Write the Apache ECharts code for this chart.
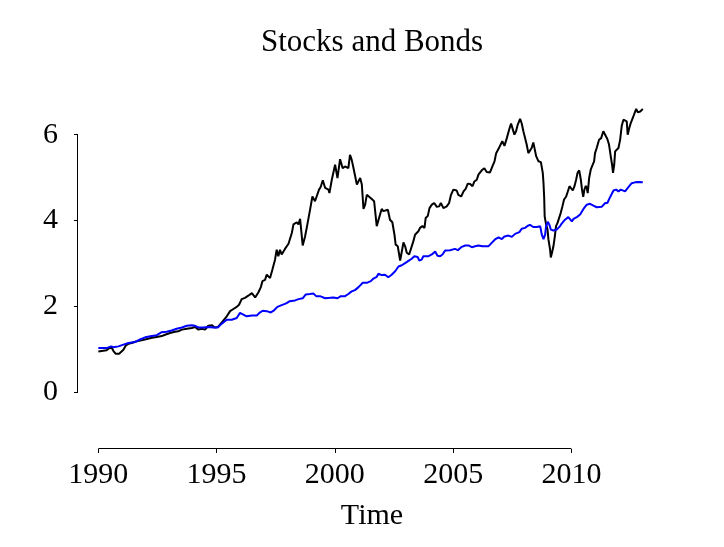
<!DOCTYPE html>
<html><head><meta charset="utf-8">
<script src="https://cdn.jsdelivr.net/npm/echarts@6/dist/echarts.min.js"></script>
<style>html,body{margin:0;padding:0;background:#fff}#c{width:724px;height:547px}</style>
</head><body><div id="c"></div>
<script>
// Stocks (black)
const stockTime = [1990.00,1990.35,1990.54,1990.64,1990.73,1990.88,1991.06,1991.16,1991.27,1991.41,1991.48,1991.62,1991.83,1991.90,1992.05,1992.26,1992.47,1992.68,1992.82,1993.03,1993.24,1993.38,1993.53,1993.74,1993.95,1994.09,1994.23,1994.37,1994.51,1994.65,1994.72,1994.82,1994.91,1995.05,1995.22,1995.43,1995.57,1995.71,1995.85,1995.95,
1996.06,1996.20,1996.34,1996.49,1996.56,1996.63,1996.77,1996.87,1996.94,1997.05,1997.12,1997.19,1997.26,1997.36,1997.47,1997.54,1997.61,1997.68,1997.75,1997.89,1998.04,1998.11,1998.18,1998.25,1998.39,1998.46,1998.53,1998.60,1998.64,1998.74,1998.81,1998.95,1999.05,1999.16,1999.23,1999.33,1999.40,1999.49,1999.59,1999.73,1999.77,1999.87,2000.01,2000.11,2000.22,2000.33,2000.43,2000.50,2000.57,2000.64,2000.71,2000.78,2000.85,2000.93,2001.00,2001.07,2001.14,2001.21,2001.28,2001.35,2001.42,2001.56,2001.66,2001.77,2001.84,2001.91,2001.98,2002.05,
2002.12,2002.24,2002.29,2002.33,2002.43,2002.52,2002.57,2002.66,2002.76,2002.83,2002.90,2002.97,2003.04,2003.14,2003.22,2003.32,2003.39,2003.53,2003.60,2003.70,2003.79,2003.84,2003.93,2004.00,2004.10,2004.20,2004.31,2004.41,2004.48,2004.59,2004.73,2004.83,2004.91,2005.01,2005.08,2005.15,2005.22,2005.34,2005.44,2005.53,2005.62,2005.72,2005.82,2005.90,2006.00,2006.07,2006.21,2006.32,2006.42,2006.56,2006.66,2006.75,2006.82,2006.92,2007.01,2007.08,2007.17,2007.27,2007.37,2007.45,2007.52,2007.59,2007.66,2007.73,2007.83,2007.90,2007.97,2008.04,2008.11,2008.18,
2008.25,2008.32,2008.39,2008.45,2008.51,2008.61,2008.71,2008.75,2008.79,2008.82,2008.85,2008.87,2008.92,2008.99,2009.03,2009.10,2009.13,2009.18,2009.24,2009.30,2009.35,2009.41,2009.49,2009.55,2009.62,2009.69,2009.78,2009.83,2009.92,2009.99,2010.06,2010.13,2010.20,2010.26,2010.33,2010.40,2010.45,2010.50,2010.55,2010.61,2010.65,2010.69,2010.75,2010.82,2010.89,2010.96,2011.00,2011.07,2011.17,2011.26,2011.35,2011.43,2011.52,2011.59,2011.66,2011.72,2011.76,2011.81,2011.85,2011.92,2011.99,2012.06,2012.13,2012.20,2012.27,2012.34,2012.38,2012.45,2012.51,2012.58,2012.65,2012.74,2012.81,2012.91,2012.98,2013.02];
const stockValue = [0.95,0.98,1.06,0.96,0.90,0.90,0.99,1.09,1.13,1.15,1.11,1.19,1.21,1.17,1.24,1.27,1.29,1.31,1.34,1.38,1.41,1.42,1.46,1.48,1.50,1.52,1.46,1.48,1.46,1.55,1.51,1.56,1.51,1.52,1.63,1.77,1.89,1.94,1.99,2.04,
2.17,2.20,2.25,2.31,2.28,2.21,2.33,2.45,2.59,2.62,2.74,2.70,2.66,2.86,3.09,3.32,3.17,3.32,3.21,3.34,3.46,3.48,3.71,3.91,3.96,3.91,4.04,4.01,3.42,3.63,3.83,4.25,4.56,4.45,4.56,4.72,4.78,4.94,4.76,4.72,4.64,4.95,5.30,4.99,5.43,5.22,5.26,5.30,5.22,5.53,5.42,5.24,5.20,4.84,4.84,4.99,4.84,4.27,4.37,4.60,4.64,4.50,4.45,3.87,3.91,4.14,4.27,4.22,
4.18,4.25,4.22,4.02,3.96,3.67,3.44,3.40,3.07,3.28,3.49,3.40,3.25,3.21,3.21,3.52,3.67,3.75,3.83,3.87,3.83,4.06,4.11,4.29,4.37,4.41,4.32,4.33,4.41,4.29,4.33,4.41,4.60,4.72,4.68,4.70,4.60,4.56,4.68,4.74,4.86,4.85,4.80,4.91,4.95,5.07,5.17,5.22,5.13,5.12,5.26,5.38,5.57,5.67,5.77,5.85,5.74,5.92,6.12,6.26,6.13,6.00,6.08,6.23,6.37,6.26,6.08,6.05,5.77,5.57,
5.53,5.69,5.82,5.81,5.50,5.38,5.36,5.38,5.11,4.88,4.53,4.10,3.94,3.79,3.56,3.32,3.14,3.25,3.40,3.63,3.87,3.94,3.97,4.18,4.33,4.49,4.56,4.53,4.80,4.84,4.70,4.80,4.95,5.11,5.17,4.95,4.72,4.55,4.72,4.81,4.76,4.64,4.99,5.19,5.22,5.38,5.57,5.69,5.88,5.92,6.08,6.04,5.90,5.77,5.51,5.30,5.11,5.30,5.61,5.64,5.69,5.88,6.21,6.35,6.39,6.31,6.00,6.16,6.27,6.37,6.47,6.60,6.52,6.54,6.58,6.60];

// Bonds (blue)
const bondTime = [1990.00,1990.35,1990.54,1990.64,1990.85,1991.06,1991.27,1991.55,1991.76,1991.98,1992.26,1992.47,1992.68,1992.89,1993.10,1993.31,1993.53,1993.74,1993.95,1994.09,1994.23,1994.44,1994.65,1994.86,1995.05,1995.22,1995.43,1995.64,1995.85,
1995.99,1996.13,1996.27,1996.49,1996.70,1996.81,1996.95,1997.12,1997.29,1997.43,1997.57,1997.75,1997.94,1998.08,1998.32,1998.46,1998.64,1998.77,1998.95,1999.09,1999.21,1999.37,1999.59,1999.80,1999.94,2000.11,2000.25,2000.43,2000.57,2000.71,2000.85,2001.00,2001.18,2001.35,2001.52,2001.63,2001.77,2001.84,2001.98,
2002.12,2002.26,2002.40,2002.55,2002.69,2002.83,2002.97,2003.11,2003.25,2003.36,2003.43,2003.50,2003.57,2003.67,2003.74,2003.96,2004.10,2004.24,2004.34,2004.45,2004.55,2004.66,2004.87,2005.08,2005.20,2005.34,2005.51,2005.65,2005.79,2005.93,2006.07,2006.24,2006.49,2006.63,2006.77,2006.92,2007.06,2007.17,2007.34,2007.48,2007.62,2007.80,2007.90,2008.04,2008.16,
2008.25,2008.39,2008.54,2008.68,2008.75,2008.82,2008.89,2008.93,2009.00,2009.07,2009.13,2009.24,2009.38,2009.52,2009.59,2009.73,2009.87,2009.95,2010.02,2010.09,2010.23,2010.37,2010.51,2010.65,2010.79,2010.93,2011.07,2011.28,2011.43,2011.52,2011.64,2011.78,2011.89,2011.99,2012.09,2012.17,2012.27,2012.41,2012.55,2012.69,2012.83,2013.02];
const bondValue = [1.03,1.03,1.07,1.05,1.07,1.11,1.15,1.17,1.23,1.28,1.31,1.33,1.40,1.41,1.44,1.48,1.51,1.55,1.56,1.55,1.51,1.51,1.52,1.51,1.51,1.60,1.69,1.69,1.73,
1.85,1.81,1.77,1.79,1.79,1.85,1.90,1.89,1.86,1.91,1.99,2.03,2.07,2.12,2.14,2.17,2.19,2.28,2.29,2.30,2.24,2.24,2.19,2.20,2.21,2.19,2.24,2.24,2.29,2.35,2.38,2.45,2.55,2.55,2.59,2.65,2.69,2.76,2.73,
2.74,2.68,2.74,2.82,2.93,2.96,3.01,3.06,3.11,3.17,3.21,3.15,3.07,3.09,3.17,3.17,3.21,3.28,3.18,3.17,3.21,3.30,3.31,3.34,3.31,3.38,3.42,3.42,3.38,3.40,3.42,3.40,3.40,3.48,3.56,3.61,3.57,3.63,3.65,3.62,3.69,3.73,3.81,3.83,3.88,
3.90,3.85,3.85,3.87,3.67,3.57,3.67,3.87,3.97,3.90,3.79,3.77,3.79,3.87,3.93,4.02,4.08,4.06,3.98,4.04,4.08,4.14,4.27,4.37,4.39,4.35,4.31,4.32,4.41,4.41,4.55,4.70,4.72,4.68,4.72,4.74,4.68,4.78,4.87,4.89,4.90,4.89];

const xTicks = [1990, 1995, 2000, 2005, 2010];
const yTicks = [0, 2, 4, 6];
const X_MIN = 1989.14, X_MAX = 2014.0, Y_MIN = -1.32, Y_MAX = 7.32;

const pair = (t, v) => t.map((x, i) => [x, v[i]]);
const FONT = '"Liberation Serif", "Times New Roman", serif';
const txt = {fontFamily: FONT, fontSize: 30, color: '#000', fontWeight: 'normal'};

// axis-line segments in data space: [x1, y1, x2, y2]
const axisSegments = [
  [xTicks[0], Y_MIN, xTicks[xTicks.length - 1], Y_MIN],
  [X_MIN, yTicks[0], X_MIN, yTicks[yTicks.length - 1]]
];

const crisp = v => Math.round(v) + 0.5;

const chart = echarts.init(document.getElementById('c'), null, {renderer: 'canvas'});
chart.setOption({
  animation: false,
  backgroundColor: '#fff',
  title: {text: 'Stocks and Bonds', left: 256, top: 22, textStyle: Object.assign({}, txt, {fontSize: 31})},
  grid: {left: 78, top: 78, width: 588, height: 371, containLabel: false},
  xAxis: {
    type: 'value', min: X_MIN, max: X_MAX,
    name: 'Time', nameLocation: 'middle', nameGap: 52, nameTextStyle: txt,
    axisLine: {show: false, onZero: false}, splitLine: {show: false},
    axisTick: {show: true, length: 4, customValues: xTicks, lineStyle: {color: '#000', width: 1}},
    axisLabel: {customValues: xTicks, margin: 11, formatter: v => String(v), ...txt}
  },
  yAxis: {
    type: 'value', min: Y_MIN, max: Y_MAX,
    axisLine: {show: false, onZero: false}, splitLine: {show: false},
    axisTick: {show: true, length: 4, customValues: yTicks, lineStyle: {color: '#000', width: 1}},
    axisLabel: {customValues: yTicks, margin: 20, formatter: v => String(v), ...txt}
  },
  series: [
    {type: 'line', name: 'Stocks', data: pair(stockTime, stockValue), showSymbol: false, symbol: 'none',
     lineStyle: {color: '#000000', width: 2}, silent: true},
    {type: 'line', name: 'Bonds', data: pair(bondTime, bondValue), showSymbol: false, symbol: 'none',
     lineStyle: {color: '#0000ff', width: 2}, silent: true},
    {type: 'custom', silent: true, clip: false, data: axisSegments,
     encode: {x: [0, 2], y: [1, 3]},
     renderItem: function (params, api) {
       const p1 = api.coord([api.value(0), api.value(1)]);
       const p2 = api.coord([api.value(2), api.value(3)]);
       const vertical = Math.abs(p1[0] - p2[0]) < 0.5;
       const shape = vertical
         ? {x1: crisp(p1[0]) - 1, y1: p1[1], x2: crisp(p2[0]) - 1, y2: p2[1]}
         : {x1: p1[0], y1: crisp(p1[1]) - 1, x2: p2[0], y2: crisp(p2[1]) - 1};
       return {type: 'line', shape: shape, style: {stroke: '#000', lineWidth: 1}};
     }}
  ]
});
</script></body></html>
